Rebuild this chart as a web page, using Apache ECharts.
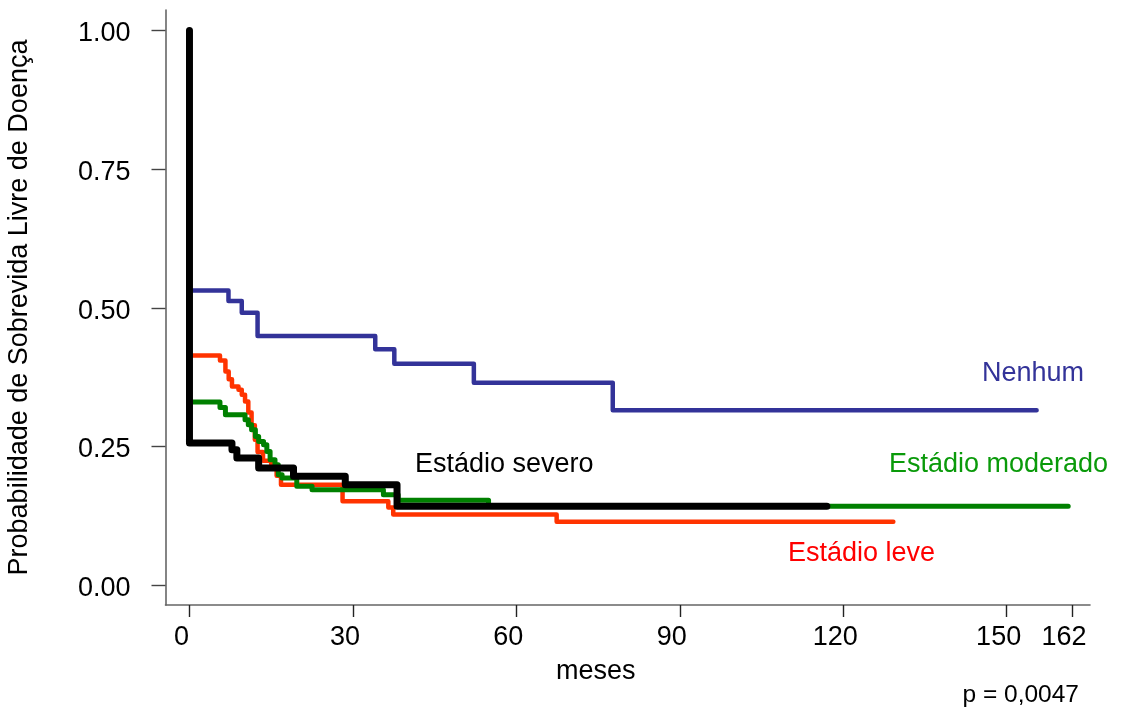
<!DOCTYPE html>
<html>
<head>
<meta charset="utf-8">
<title>Sobrevida livre de doença</title>
<script src="https://cdn.jsdelivr.net/npm/echarts@6/dist/echarts.min.js"></script>
<style>
  html, body { margin: 0; padding: 0; background: #fff; }
  #chart { width: 1122px; height: 711px; }
</style>
</head>
<body>
<div id="chart"></div>
<script>
// Kaplan-Meier estimates (months, survival probability) per group
const nenhumTimes = [0, 0, 7.16, 9.6, 12.5, 34.1, 37.6, 52.2, 77.7, 155.5];
const nenhumSurv  = [1, 0.531, 0.512, 0.491, 0.449, 0.425, 0.399, 0.365, 0.315, 0.315];

const leveTimes = [0, 0, 5.6, 6.6, 7.2, 7.8, 9.0, 9.6, 10.2, 10.8, 11.4, 12.0, 12.5, 13.5, 15.0, 16.0, 16.8, 28.1, 36.5, 37.4, 67.4, 129.2];
const leveSurv  = [1, 0.414, 0.405, 0.385, 0.371, 0.358, 0.352, 0.343, 0.331, 0.311, 0.288, 0.262, 0.240, 0.224, 0.211, 0.197, 0.181, 0.151, 0.140, 0.127, 0.114, 0.114];

const moderadoTimes = [0, 0, 5.6, 6.6, 10.2, 10.8, 11.4, 12.1, 12.7, 13.6, 14.2, 14.8, 15.7, 16.3, 17.0, 19.7, 22.5, 35.6, 38.3, 54.9, 161.3];
const moderadoSurv  = [1, 0.330, 0.320, 0.307, 0.298, 0.289, 0.280, 0.268, 0.259, 0.253, 0.241, 0.226, 0.217, 0.199, 0.193, 0.178, 0.172, 0.163, 0.153, 0.142, 0.142];

const severoTimes = [0, 0, 7.8, 8.7, 12.7, 19.1, 28.6, 38.1, 117.0];
const severoSurv  = [1, 0.256, 0.244, 0.229, 0.211, 0.196, 0.181, 0.142, 0.142];

// Axis ticks
const xTicks = [0, 30, 60, 90, 120, 150, 162];
const yTicks = [0, 0.25, 0.5, 0.75, 1];

const pairs = (ts, ss) => ts.map((t, i) => [t, ss[i]]);

const FONT = '"Liberation Sans", Arial, Helvetica, sans-serif';

function kmSeries(name, ts, ss, color, width) {
  return {
    name: name,
    type: 'line',
    step: 'end',
    data: pairs(ts, ss),
    showSymbol: false,
    symbol: 'none',
    animation: false,
    silent: true,
    lineStyle: { color: color, width: width, cap: 'round', join: 'round' }
  };
}

const chart = echarts.init(document.getElementById('chart'), null, { renderer: 'canvas' });

chart.setOption({
  backgroundColor: '#ffffff',
  animation: false,
  grid: { left: 165.5, right: 32, top: 10, bottom: 106, containLabel: false, outerBoundsMode: 'none' },
  xAxis: {
    type: 'value',
    min: -4.4,
    max: 165.3,
    axisLine: { show: true, onZero: false, lineStyle: { color: '#666', width: 1.6 } },
    axisTick: { show: true, customValues: xTicks, length: 12, lineStyle: { color: '#222', width: 1.4 } },
    axisLabel: {
      customValues: xTicks,
      color: '#000', fontFamily: FONT, fontSize: 27, margin: 19,
      padding: [0, 16, 0, 0]
    },
    splitLine: { show: false }
  },
  yAxis: {
    type: 'value',
    min: -0.036,
    max: 1.037,
    name: 'Probabilidade de Sobrevida Livre de Doença',
    nameLocation: 'middle',
    nameGap: 132,
    nameTextStyle: { color: '#000', fontFamily: FONT, fontSize: 27 },
    axisLine: { show: true, onZero: false, lineStyle: { color: '#666', width: 1.6 } },
    axisTick: { show: true, customValues: yTicks, length: 14, lineStyle: { color: '#444', width: 1.4 } },
    axisLabel: {
      customValues: yTicks,
      color: '#000', fontFamily: FONT, fontSize: 27, margin: 35,
      formatter: v => '{t|' + v.toFixed(2) + '}',
      rich: { t: { color: '#000', fontFamily: FONT, fontSize: 27, padding: [7, 0, 0, 0] } }
    },
    splitLine: { show: false }
  },
  series: [
    kmSeries('Nenhum', nenhumTimes, nenhumSurv, '#333399', 4.5),
    kmSeries('Estádio leve', leveTimes, leveSurv, '#ff3300', 4.5),
    kmSeries('Estádio moderado', moderadoTimes, moderadoSurv, '#008000', 5),
    kmSeries('Estádio severo', severoTimes, severoSurv, '#000000', 7)
  ],
  graphic: [
    { type: 'text', left: 982, top: 360, silent: true,
      style: { text: 'Nenhum', fill: '#333399', font: '27px ' + FONT } },
    { type: 'text', left: 889, top: 451, silent: true,
      style: { text: 'Estádio moderado', fill: '#0a9a0a', font: '27px ' + FONT } },
    { type: 'text', left: 415, top: 451, silent: true,
      style: { text: 'Estádio severo', fill: '#000000', font: '27px ' + FONT } },
    { type: 'text', left: 788, top: 540, silent: true,
      style: { text: 'Estádio leve', fill: '#ff0000', font: '27px ' + FONT } },
    { type: 'text', left: 556, top: 658, silent: true,
      style: { text: 'meses', fill: '#000000', font: '27px ' + FONT } },
    { type: 'text', right: 43, top: 683, silent: true,
      style: { text: 'p = 0,0047', fill: '#000000', font: '24.5px ' + FONT } }
  ]
});
</script>
</body>
</html>
